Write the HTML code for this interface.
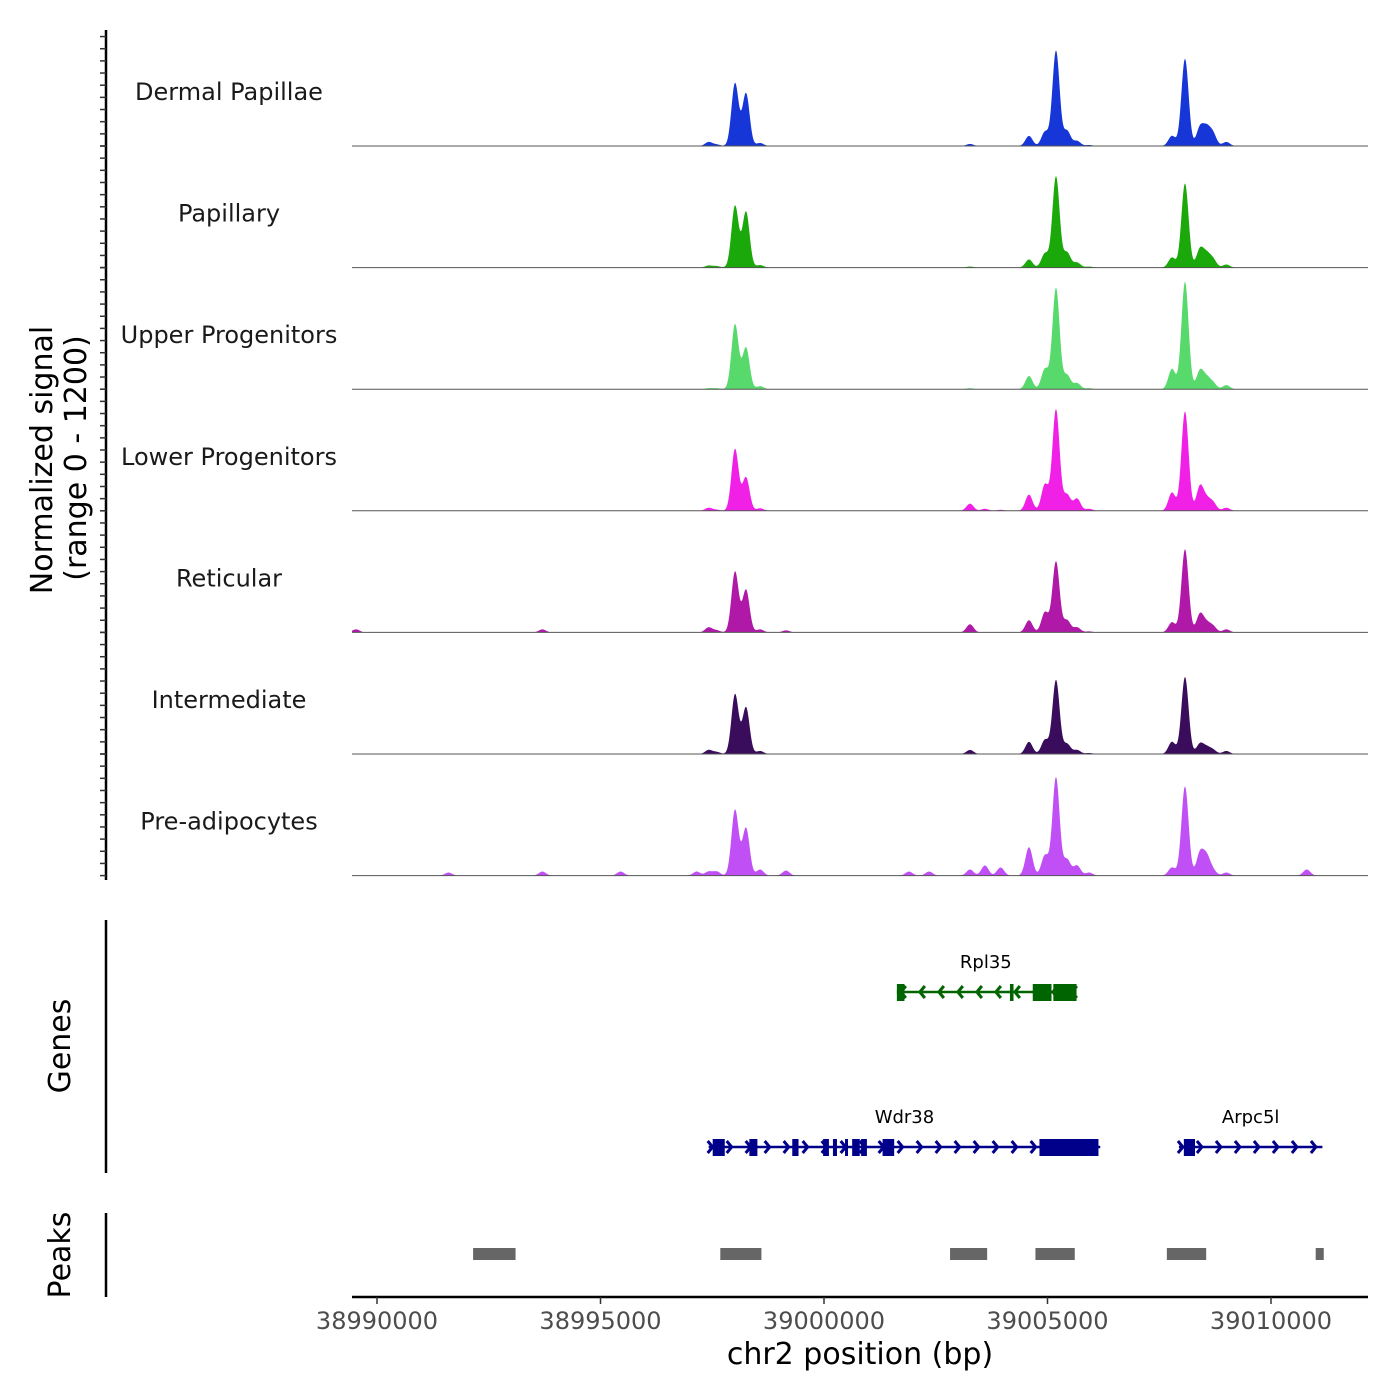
<!DOCTYPE html>
<html><head><meta charset="utf-8"><style>
body{margin:0;background:#fff;}
svg{display:block;font-family:"DejaVu Sans","Liberation Sans",sans-serif;}
</style></head><body>
<svg id="chart" width="1400" height="1400" viewBox="0 0 1400 1400"></svg>
<script>
// ---- data ----
const trackNames = ["Dermal Papillae","Papillary","Upper Progenitors","Lower Progenitors","Reticular","Intermediate","Pre-adipocytes"];
const trackColors = ["#1736d8","#1aa80a","#58d96c","#f020e6","#b018a8","#3a0c5c","#c050f6"];
const peakPositions = [38989530,38991600,38993700,38995450,38997150,38997420,38997600,38998010,38998255,38998570,38999150,39001900,39002350,39003266,39003600,39003950,39004586,39004944,39005190,39005436,39005660,39005930,39007785,39008076,39008412,39008560,39008700,39009000,39010800];
const dermalVals   = [0,0,0,0,0,40,15,620,520,30,5,0,0,20,0,0,100,140,940,150,50,10,100,860,180,160,120,40,0];
const papillaryVals= [0,0,0,0,0,20,15,610,550,25,0,0,0,10,0,0,80,140,900,150,50,10,100,830,180,120,80,30,0];
const upperVals    = [0,0,0,0,0,10,10,640,410,30,0,0,0,10,0,0,130,200,1000,140,60,10,200,1060,180,100,60,40,0];
const lowerVals    = [0,0,0,0,0,30,10,610,330,25,0,0,0,70,20,10,160,260,1000,160,120,20,180,980,240,100,80,30,0];
const reticularVals= [30,0,30,0,0,50,20,600,420,30,20,0,0,80,0,0,120,200,700,120,50,10,100,820,180,80,60,30,0];
const intermedVals = [0,0,0,0,0,40,20,590,460,30,0,0,0,40,0,0,120,140,730,100,40,10,120,760,100,60,40,30,0];
const preadipVals  = [0,30,40,40,40,40,40,650,470,60,50,40,40,60,100,80,280,200,970,160,100,30,80,880,220,180,50,30,60];
const seriesVals = [dermalVals,papillaryVals,upperVals,lowerVals,reticularVals,intermedVals,preadipVals];
const xTicks = [38990000,38995000,39000000,39005000,39010000];
const peakRegions = [[38992150,38993100],[38997680,38998600],[39002820,39003650],[39004730,39005610],[39007670,39008550],[39011000,39011180]];
const genes = [
 {name:"Rpl35",color:"#006400",strand:-1,start:39001630,end:39005610,row:0,
  exons:[[39001630,39001800],[39004160,39004240],[39004670,39005090],[39005130,39005650]]},
 {name:"Wdr38",color:"#00008b",strand:1,start:38997420,end:39006180,row:1,
  exons:[[38997510,38997780],[38998330,38998510],[38999290,38999430],[38999980,39000110],[39000200,39000290],[39000470,39000530],[39000630,39000800],[39000830,39000960],[39001310,39001570],[39004820,39006140]]},
 {name:"Arpc5l",color:"#00008b",strand:1,start:39007940,end:39011150,row:1,
  exons:[[39008050,39008300]]}
];
// ---- scales ----
const X0=352,X1=1368;
function xs(bp){return 377+(bp-38990000)*223.5/5000;}
const trackH=121.6, firstBase=146, yMax=1200;
function baseY(i){return firstBase+i*trackH;}
function ys(i,v){return baseY(i)-v/yMax*trackH;}
const NS="http://www.w3.org/2000/svg";
const svg=document.getElementById('chart');
function mk(tag,attrs,parent){const e=document.createElementNS(NS,tag);for(const k in attrs)e.setAttribute(k,attrs[k]);(parent||svg).appendChild(e);return e;}
function signalAt(vals,bp){let s=0;for(let k=0;k<peakPositions.length;k++){const d=(bp-peakPositions[k])/80;s+=vals[k]*Math.exp(-0.5*d*d);}return s;}
// ---- tracks ----
seriesVals.forEach((vals,i)=>{
  const g=mk('g',{});
  
  
  let d='M'+X0+','+baseY(i);
  for(let px=X0;px<=X1;px+=0.5){const bp=38990000+(px-377)*5000/223.5;d+=' L'+px+','+ys(i,Math.min(yMax,signalAt(vals,bp))).toFixed(2);}
  d+=' L'+X1+','+baseY(i)+' Z';
  const p=mk('path',{d:d,fill:trackColors[i],stroke:'none'},g);
  
  
  const bl=mk('line',{x1:X0,x2:X1,y1:baseY(i),y2:baseY(i),stroke:'#555',"stroke-width":1},g);
  
  
  const t=mk('text',{x:229,y:baseY(i)-54+8,'text-anchor':'middle','font-size':24,fill:'#1a1a1a'},g);
  t.textContent=trackNames[i];
  
  
});
// ---- left axis ----
const la=mk('g',{});


mk('line',{x1:106,x2:106,y1:30,y2:880,stroke:'#000','stroke-width':2.5},la);
for(let i=0;i<7;i++){for(let k=0;k<=10;k++){const y=baseY(i)-k*trackH/10;if(y<30)continue;mk('line',{x1:100,x2:106,y1:y,y2:y,stroke:'#333','stroke-width':1.5},la);}}
const yt=mk('text',{transform:'translate(52,460) rotate(-90)','text-anchor':'middle','font-size':30,fill:'#000'});
yt.textContent='Normalized signal';


const yt2=mk('text',{transform:'translate(86,458) rotate(-90)','text-anchor':'middle','font-size':30,fill:'#000'});
yt2.textContent='(range 0 - 1200)';


// ---- genes ----
const gg=mk('g',{});


mk('line',{x1:106,x2:106,y1:920,y2:1173,stroke:'#000','stroke-width':2.5},gg);
const gt=mk('text',{transform:'translate(70,1046) rotate(-90)','text-anchor':'middle','font-size':30,fill:'#000'},gg);
gt.textContent='Genes';


const rowY=[992,1147];
genes.forEach(gn=>{
  const g=mk('g',{},gg);
  
  
  const y=rowY[gn.row];
  mk('line',{x1:xs(gn.start),x2:xs(gn.end),y1:y,y2:y,stroke:gn.color,'stroke-width':2.5},g);
  for(let x=xs(gn.start)+4;x<xs(gn.end);x+=19){
    const s=gn.strand;
    mk('polyline',{points:(x-5*s)+','+(y-6)+' '+x+','+y+' '+(x-5*s)+','+(y+6),fill:'none',stroke:gn.color,'stroke-width':3},g);
  }
  gn.exons.forEach(e=>{mk('rect',{x:xs(e[0]),y:y-8,width:Math.max(3,xs(e[1])-xs(e[0])),height:17,fill:gn.color},g);});
  const lb=mk('text',{x:(xs(gn.start)+xs(gn.end))/2,y:y-24,'text-anchor':'middle','font-size':18,fill:'#000'},g);
  lb.textContent=gn.name;
  
  
});
// ---- peaks ----
const pg=mk('g',{});


mk('line',{x1:106,x2:106,y1:1213,y2:1297,stroke:'#000','stroke-width':2.5},pg);
const pt=mk('text',{transform:'translate(70,1255) rotate(-90)','text-anchor':'middle','font-size':30,fill:'#000'},pg);
pt.textContent='Peaks';


peakRegions.forEach(r=>{
  const rc=mk('rect',{x:xs(r[0]),y:1248,width:xs(r[1])-xs(r[0]),height:12,fill:'#666'},pg);
  
  
});
// ---- x axis ----
const xa=mk('g',{});


mk('line',{x1:X0,x2:X1,y1:1297,y2:1297,stroke:'#000','stroke-width':2.5},xa);
xTicks.forEach(t=>{
  mk('line',{x1:xs(t),x2:xs(t),y1:1297,y2:1304,stroke:'#333','stroke-width':1.5},xa);
  const tl=mk('text',{x:xs(t),y:1329,'text-anchor':'middle','font-size':24,fill:'#4d4d4d'},xa);
  tl.textContent=String(t);
  
  
});
const xt=mk('text',{x:860,y:1364,'text-anchor':'middle','font-size':30,fill:'#000'},xa);
xt.textContent='chr2 position (bp)';


</script>
</body></html>
